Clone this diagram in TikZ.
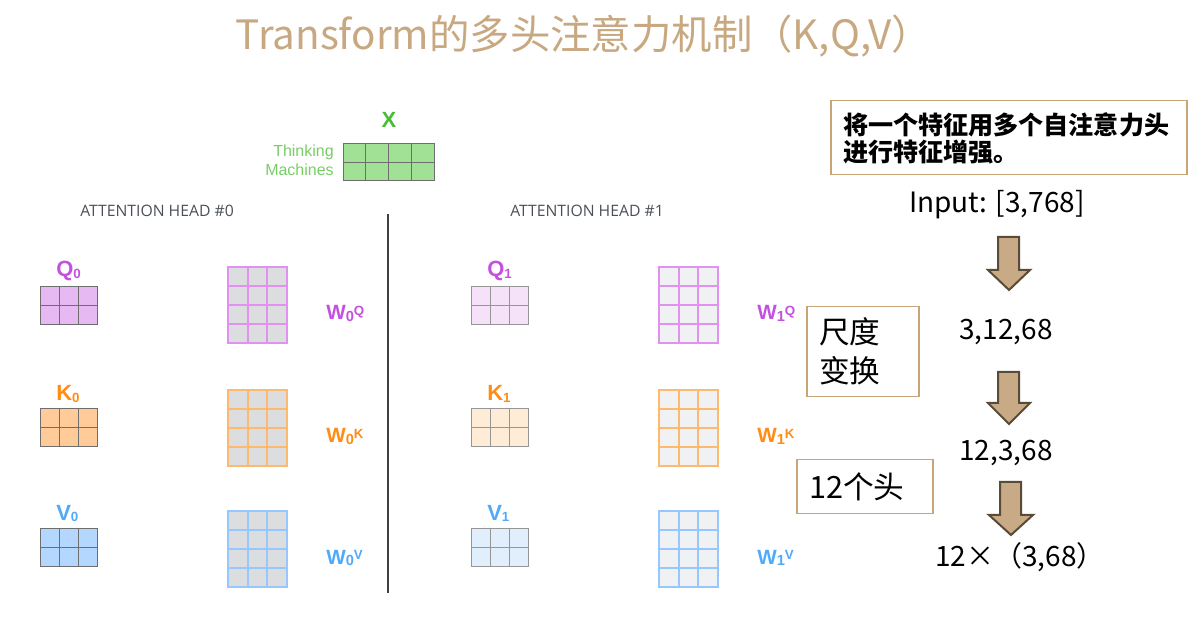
\documentclass[tikz,border=0pt]{standalone}
\usepackage{fontspec}
\setmainfont{Noto Sans CJK SC}
\newfontfamily\cjk{Noto Sans CJK SC}
\newfontfamily\arialf{Liberation Sans}
\newfontfamily\osans{Open Sans}
\definecolor{titletan}{RGB}{200,168,128}
\definecolor{boxtan}{RGB}{200,165,120}
\definecolor{arrfill}{RGB}{200,170,135}
\definecolor{arrdraw}{RGB}{90,75,55}
\definecolor{xgreen}{RGB}{70,190,50}
\definecolor{tgreen}{RGB}{120,205,100}
\definecolor{xfill}{RGB}{160,225,150}
\definecolor{headgray}{RGB}{75,80,88}
\definecolor{lpurple}{RGB}{195,80,225}
\definecolor{lorange}{RGB}{255,140,20}
\definecolor{lblue}{RGB}{80,170,250}
\definecolor{qfillA}{RGB}{230,185,242}
\definecolor{kfillA}{RGB}{255,204,153}
\definecolor{vfillA}{RGB}{180,215,255}
\definecolor{qfillB}{RGB}{245,225,248}
\definecolor{kfillB}{RGB}{255,236,215}
\definecolor{vfillB}{RGB}{225,238,252}
\definecolor{wfillA}{RGB}{220,221,223}
\definecolor{wfillB}{RGB}{240,241,243}
\definecolor{wqline}{RGB}{225,145,240}
\definecolor{wkline}{RGB}{255,185,110}
\definecolor{wvline}{RGB}{150,200,255}
\definecolor{gridA}{RGB}{110,110,110}
\definecolor{gridB}{RGB}{150,150,150}
\newcommand{\gridmat}[8]{%
  \fill[#7] (#1,#2) rectangle ({#1+#3*#5},{#2+#4*#6});
  \foreach \i in {0,...,#3} \draw[#8] ({#1+\i*#5},#2) -- ({#1+\i*#5},{#2+#4*#6});
  \foreach \j in {0,...,#4} \draw[#8] (#1,{#2+\j*#6}) -- ({#1+#3*#5},{#2+\j*#6});
}
\newcommand{\lsub}[1]{\raisebox{-1.5pt}{\fontsize{10}{10}\selectfont #1}}
\newcommand{\wlab}[2]{W\raisebox{-1.5pt}{\fontsize{11}{11}\selectfont #1}\raisebox{3pt}{\fontsize{10}{10}\selectfont #2}}
\tikzset{
  smallA/.style={draw=gridA, line width=0.75pt, line cap=rect},
  smallB/.style={draw=gridB, line width=0.75pt, line cap=rect},
  wq/.style={draw=wqline, line width=1.6pt, line cap=rect},
  wk/.style={draw=wkline, line width=1.6pt, line cap=rect},
  wv/.style={draw=wvline, line width=1.6pt, line cap=rect},
  lab/.style={anchor=base west, inner sep=0pt, font=\arialf\bfseries\fontsize{16.5}{18}\selectfont},
  wlabst/.style={anchor=base west, inner sep=0pt, font=\arialf\bfseries\fontsize{15.5}{18}\selectfont},
  headlab/.style={anchor=base west, inner sep=0pt, text=headgray, font=\osans\fontsize{11.8}{13}\selectfont},
  num/.style={anchor=base, inner sep=0pt, font=\cjk\fontsize{21}{24}\selectfont},
  tanbox/.style={draw=boxtan, line width=0.8pt, inner sep=0pt},
  blockarrow/.style={fill=arrfill, draw=arrdraw, line width=1.5pt, line join=miter},
}
\begin{document}
\begin{tikzpicture}[x=0.75pt,y=-0.75pt]
\useasboundingbox (0,0) rectangle (1200,634);
% title
\node[anchor=base, inner sep=0pt, text=titletan, font=\cjk\fontsize{30.3}{34}\selectfont] (title) at (584,50) {Transform的多头注意力机制（K,Q,V）};
% X
\node[anchor=base, inner sep=0pt, text=xgreen, font=\arialf\bfseries\fontsize{16.5}{18}\selectfont] (xlab) at (389,128) {X};
\gridmat{343}{144}{4}{2}{22.75}{18.5}{xfill}{smallA}
\node[anchor=base east, inner sep=0pt, text=tgreen, font=\arialf\fontsize{12}{14}\selectfont] (think) at (334,157) {Thinking};
\node[anchor=base east, inner sep=0pt, text=tgreen, font=\arialf\fontsize{12}{14}\selectfont] (mach) at (334,176) {Machines};
% heads
\node[headlab] (h0) at (80,217) {ATTENTION HEAD \#0};
\node[headlab] (h1) at (510,217) {ATTENTION HEAD \#1};
\coordinate (sepT) at (388,214);
\coordinate (sepB) at (388,593);
\draw[line width=1.5pt, draw=black!75] (sepT) -- (sepB);
% head 0
\node[lab, text=lpurple] (q0) at (56,277) {Q\lsub{0}};
\gridmat{40}{287}{3}{2}{19}{19}{qfillA}{smallA}
\gridmat{228}{267}{3}{4}{19.67}{19}{wfillA}{wq}
\node[wlabst, text=lpurple] (wq0) at (326,320) {\wlab{0}{Q}};
\node[lab, text=lorange] (k0) at (56,401) {K\lsub{0}};
\gridmat{40}{409}{3}{2}{19}{19}{kfillA}{smallA}
\gridmat{228}{390}{3}{4}{19.67}{19}{wfillA}{wk}
\node[wlabst, text=lorange] (wk0) at (326,443) {\wlab{0}{K}};
\node[lab, text=lblue] (v0) at (56,520) {V\lsub{0}};
\gridmat{40}{528}{3}{2}{19}{19}{vfillA}{smallA}
\gridmat{228}{511}{3}{4}{19.67}{19}{wfillA}{wv}
\node[wlabst, text=lblue] (wv0) at (326,564) {\wlab{0}{V}};
% head 1
\node[lab, text=lpurple] (q1) at (487,277) {Q\lsub{1}};
\gridmat{471}{287}{3}{2}{19}{19}{qfillB}{smallB}
\gridmat{659}{267}{3}{4}{19.67}{19}{wfillB}{wq}
\node[wlabst, text=lpurple] (wq1) at (757,320) {\wlab{1}{Q}};
\node[lab, text=lorange] (k1) at (487,401) {K\lsub{1}};
\gridmat{471}{409}{3}{2}{19}{19}{kfillB}{smallB}
\gridmat{659}{390}{3}{4}{19.67}{19}{wfillB}{wk}
\node[wlabst, text=lorange] (wk1) at (757,443) {\wlab{1}{K}};
\node[lab, text=lblue] (v1) at (487,520) {V\lsub{1}};
\gridmat{471}{528}{3}{2}{19}{19}{vfillB}{smallB}
\gridmat{659}{511}{3}{4}{19.67}{19}{wfillB}{wv}
\node[wlabst, text=lblue] (wv1) at (757,564) {\wlab{1}{V}};
% right side
\node[tanbox, minimum width=267pt, minimum height=55pt] (b1) at (1009,137.5) {};
\node[anchor=west, align=left, inner sep=0pt, font=\cjk\bfseries\fontsize{18.8}{20.3}\selectfont] (t1) at (843,138) {将一个特征用多个自注意力头\\进行特征增强。};
\node[num] (inp) at (997,213) {Input: [3,768]};
\filldraw[blockarrow] (998,237) -- (1019,237) -- (1019,270) -- (1030,270) -- (1009,290) -- (988,270) -- (998,270) -- cycle;
\node[num] (s1) at (1006,340) {3,12,68};
\filldraw[blockarrow] (998,372) -- (1019,372) -- (1019,403) -- (1030,403) -- (1009,424) -- (988,403) -- (998,403) -- cycle;
\node[num] (s2) at (1006,460) {12,3,68};
\filldraw[blockarrow] (1000,482) -- (1021,482) -- (1021,515) -- (1033,515) -- (1011,535) -- (989,515) -- (1000,515) -- cycle;
\node[num] (s3) at (1020,566) {12×（3,68）};
\node[tanbox, minimum width=84pt, minimum height=68pt] (b2) at (863,351.5) {};
\node[anchor=west, align=left, inner sep=0pt, font=\cjk\fontsize{23}{29}\selectfont] (t2) at (819,351) {尺度\\变换};
\node[tanbox, minimum width=102pt, minimum height=40pt] (b3) at (865,486.5) {};
\node[anchor=west, inner sep=0pt, font=\cjk\fontsize{23}{29}\selectfont] (t3) at (809,487) {12个头};
\end{tikzpicture}
\end{document}
